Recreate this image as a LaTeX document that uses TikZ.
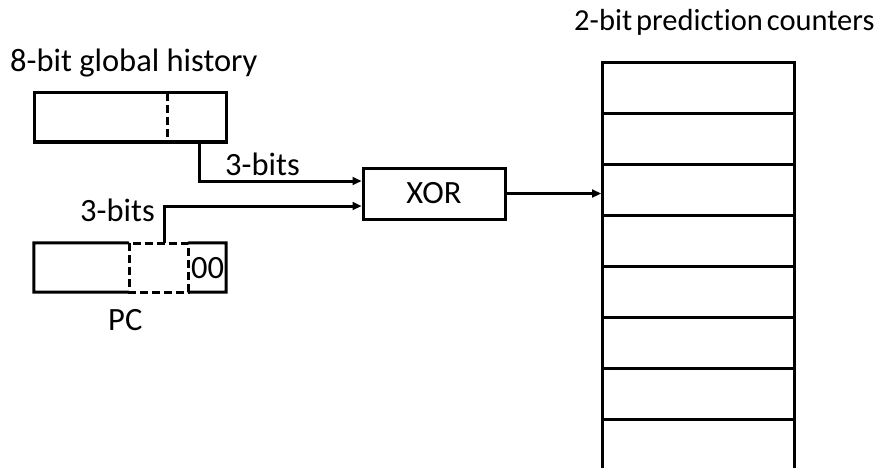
\documentclass[tikz,border=0pt]{standalone}
\usepackage{fontspec}
\setmainfont[Ligatures=NoCommon]{Carlito}
\usetikzlibrary{arrows.meta}
\begin{document}
\begin{tikzpicture}[x=1pt,y=-1pt,
  every node/.style={font=\fontsize{32.5}{38}\selectfont},
  lbl/.style={anchor=base west,inner sep=0pt},
  box/.style={draw,line width=3pt,inner sep=0pt},
  ln/.style={line width=3pt},
  dsh/.style={line width=3pt,dash pattern=on 8pt off 4pt},
  arr/.style={line width=3pt,-{Triangle[length=9pt,width=8pt]}}]
\useasboundingbox (0,0) rectangle (883,468);
% labels
\node[lbl] (lhist) at (10,72) {8-bit global history};
\node[lbl,font=\fontsize{30.5}{36}\selectfont] (lctr) at (574,31) {2-bit\hspace{4pt}prediction\hspace{4pt}counters};
\node[lbl] (lpc) at (108,330) {PC};
% global history register
\node[box,minimum width=192pt,minimum height=49pt] (hist) at (130,117.5) {};
\coordinate (hsplitT) at (167,93);
\coordinate (hsplitB) at (167,142);
\draw[dsh] (hsplitT) -- (hsplitB);
% PC register
\coordinate (pcA) at (129,243);
\coordinate (pcB) at (188,292);
\node[inner sep=0pt,minimum width=192pt,minimum height=49pt] (pc) at (130,267.5) {};
\draw[ln] (pcA) -- (pc.north west) -- (pc.south west) -- (pcA |- pcB);
\draw[ln] (pcB |- pcA) -- (pc.north east) -- (pc.south east) -- (pcB);
\draw[dsh] (pcA) rectangle (pcB);
\node[lbl] (l00) at (191,278) {00};
% XOR
\node[box,minimum width=142pt,minimum height=51pt] (xor) at (434,193.5) {XOR};
% counters
\foreach \i/\y in {1/61,2/112,3/163,4/214,5/265,6/316,7/367}{
  \node[box,minimum width=192pt,minimum height=51pt,anchor=north west] (row\i) at (601,\y) {};
}
\node[box,minimum width=192pt,minimum height=60pt,anchor=north west] (row8) at (601,418) {};
% connections
\coordinate (htap) at (199,142);
\draw[arr] (htap) |- (xor.west |- 0,181);
\node[lbl] (l3a) at (225,175) {3-bits};
\coordinate (ptap) at (164,243);
\draw[arr] (ptap) |- (xor.west |- 0,206);
\node[lbl] (l3b) at (80,221) {3-bits};
\draw[arr] (xor.east) -- (xor.east -| row3.west);
\end{tikzpicture}
\end{document}
